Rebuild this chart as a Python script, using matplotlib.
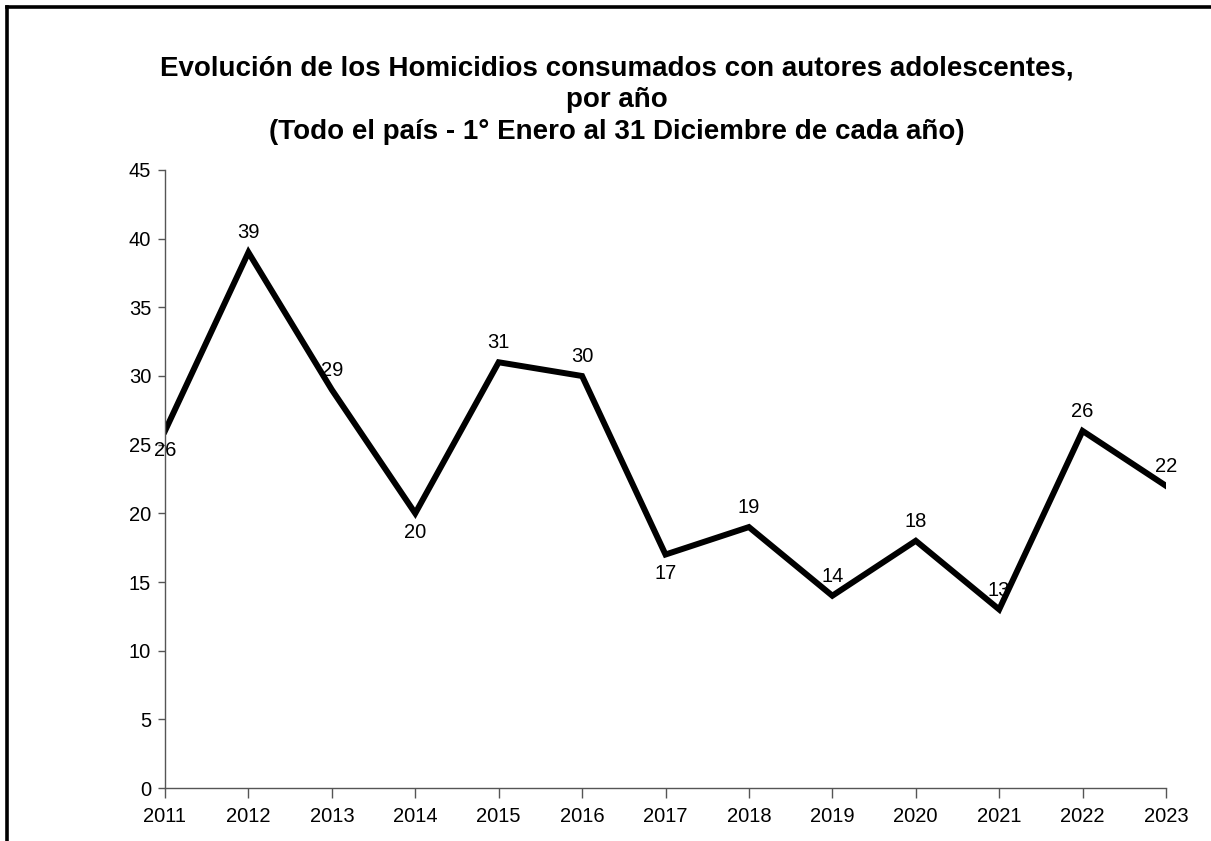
import matplotlib
matplotlib.use("Agg")
import matplotlib.pyplot as plt
from matplotlib.lines import Line2D

plt.rcParams['font.family'] = ['Liberation Sans', 'DejaVu Sans']

# data
years = [2011, 2012, 2013, 2014, 2015, 2016, 2017, 2018, 2019, 2020, 2021, 2022, 2023]
homicidios = [26, 39, 29, 20, 31, 30, 17, 19, 14, 18, 13, 26, 22]
label_below = [2011, 2014, 2017]  # labels drawn under the point

title_lines = [
    "Evolución de los Homicidios consumados con autores adolescentes,",
    "por año",
    "(Todo el país - 1° Enero al 31 Diciembre de cada año)",
]

fig = plt.figure(figsize=(12.11, 8.41), dpi=100)
ax = fig.add_axes([165 / 1211, 1 - 788 / 841, (1166 - 165) / 1211, (788 - 170) / 841])

ax.plot(years, homicidios, color='black', lw=4.3, solid_joinstyle='miter')

for x, y in zip(years, homicidios):
    dy = -14 if x in label_below else 14
    ax.annotate(str(y), (x, y), xytext=(0, dy), textcoords='offset points',
                ha='center', va='center', fontsize=14.5)

ax.set_xlim(2011, 2023)
ax.set_ylim(0, 45)
ax.set_xticks(years)
ax.set_yticks(range(0, 46, 5))
ax.tick_params(axis='y', length=5, width=1, color='#555555', labelsize=14.5, pad=5)
ax.tick_params(axis='x', length=7, width=1, color='#555555', labelsize=14.5, pad=7)
for s in ['top', 'right']:
    ax.spines[s].set_visible(False)
for s in ['left', 'bottom']:
    ax.spines[s].set_color('#555555')
    ax.spines[s].set_linewidth(1)

ys = [68, 100, 132]
for txt, yy in zip(title_lines, ys):
    fig.text(617 / 1211, 1 - yy / 841, txt, ha='center', va='center',
             fontsize=20, fontweight='bold')

# outer frame (only top and left edges visible in the picture)
fig.add_artist(Line2D([7 / 1211, 7 / 1211], [0, 1 - 7 / 841], transform=fig.transFigure,
                      color='black', lw=2.6, solid_capstyle='projecting'))
fig.add_artist(Line2D([7 / 1211, 1], [1 - 7 / 841, 1 - 7 / 841], transform=fig.transFigure,
                      color='black', lw=2.6, solid_capstyle='projecting'))

fig.savefig('out.png', dpi=100)
